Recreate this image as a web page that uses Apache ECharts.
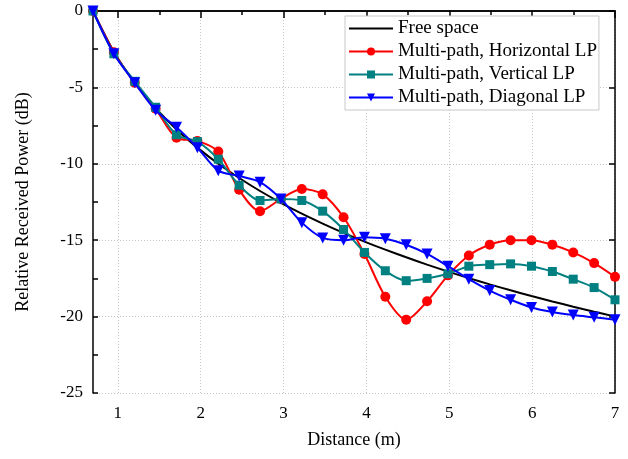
<!DOCTYPE html>
<html>
<head>
<meta charset="utf-8">
<script src="https://cdn.jsdelivr.net/npm/echarts@6/dist/echarts.min.js"></script>
<style>
  html, body { margin: 0; padding: 0; background: #fff; }
  #chart { width: 628px; height: 459px; }
</style>
</head>
<body>
<div id="chart"></div>
<script>
// distances (m), 26 samples from 0.7 to 7.0
var distance = [0.7, 0.952, 1.204, 1.456, 1.708, 1.96, 2.212, 2.464, 2.716, 2.968,
  3.22, 3.472, 3.724, 3.976, 4.228, 4.48, 4.732, 4.984, 5.236, 5.488,
  5.74, 5.992, 6.244, 6.496, 6.748, 7.0];

var freeSpace = [0, -2.67, -4.71, -6.36, -7.75, -8.94, -10.0, -10.93, -11.78, -12.55,
  -13.26, -13.91, -14.52, -15.09, -15.62, -16.12, -16.6, -17.05, -17.48, -17.89,
  -18.28, -18.65, -19.01, -19.35, -19.68, -20.0];

var horizontalLP = [0, -2.7, -4.7, -6.4, -8.3, -8.5, -9.2, -11.7, -13.1, -12.3,
  -11.65, -12.0, -13.5, -15.9, -18.7, -20.2, -19.0, -17.3, -16.0, -15.3,
  -15.0, -15.0, -15.3, -15.8, -16.5, -17.4];

var verticalLP = [0, -2.8, -4.6, -6.3, -8.1, -8.55, -9.7, -11.4, -12.4, -12.3,
  -12.4, -13.1, -14.3, -15.8, -17.0, -17.65, -17.5, -17.2, -16.7, -16.6,
  -16.55, -16.7, -17.05, -17.55, -18.1, -18.9];

var diagonalLP = [0, -2.8, -4.7, -6.5, -7.6, -8.95, -10.45, -10.8, -11.2, -12.3,
  -13.85, -14.85, -15.0, -14.8, -14.9, -15.3, -15.9, -16.7, -17.55, -18.3,
  -18.9, -19.4, -19.7, -19.9, -20.05, -20.2];

var xMajor = [1, 2, 3, 4, 5, 6, 7];
var xMinor = [1.5, 2.5, 3.5, 4.5, 5.5, 6.5];

var FONT = 'Liberation Serif';

function pairs(ys) {
  return ys.map(function(y, i) { return [distance[i], y]; });
}

var chart = echarts.init(document.getElementById('chart'));

var axisLine = { show: true, lineStyle: { color: '#000', width: 1.5 } };
var gridLine = { show: true, lineStyle: { color: '#c4c4c4', type: [1, 2], width: 1 } };

chart.setOption({
  animation: false,
  grid: { left: 93, right: 13, top: 11, bottom: 66 },
  legend: {
    left: 345,
    top: 16,
    orient: 'vertical',
    itemWidth: 44,
    itemHeight: 10,
    itemGap: 4,
    padding: [3, 2, 3, 3],
    backgroundColor: '#fff',
    borderColor: '#c8c8c8',
    borderWidth: 1,
    textStyle: { fontFamily: FONT, fontSize: 19, color: '#000' },
    data: ['Free space', 'Multi-path, Horizontal LP', 'Multi-path, Vertical LP', 'Multi-path, Diagonal LP']
  },
  xAxis: [
    {
      type: 'value', position: 'bottom', min: 0.7, max: 7,
      name: 'Distance (m)', nameLocation: 'middle', nameGap: 38,
      nameTextStyle: { fontFamily: FONT, fontSize: 18, color: '#000' },
      axisLine: axisLine,
      axisTick: { show: true, inside: false, length: 7, customValues: xMajor, lineStyle: { color: '#000', width: 1.5 } },
      axisLabel: { customValues: xMajor, fontFamily: FONT, fontSize: 17, color: '#000', margin: 12 },
      splitLine: gridLine
    },
    {
      type: 'value', position: 'bottom', min: 0.7, max: 7,
      axisLine: { show: false },
      axisTick: { show: true, inside: false, length: 4, customValues: xMinor, lineStyle: { color: '#000', width: 1.5 } },
      axisLabel: { show: false },
      splitLine: { show: false }
    },
    {
      type: 'value', position: 'top', min: 0.7, max: 7,
      axisLine: axisLine,
      axisTick: { show: true, inside: true, length: 6, customValues: xMajor, lineStyle: { color: '#000', width: 1.5 } },
      axisLabel: { show: false },
      splitLine: { show: false }
    }
  ],
  yAxis: [
    {
      type: 'value', position: 'left', min: -25, max: 0, interval: 5,
      name: 'Relative Received Power (dB)', nameLocation: 'middle', nameGap: 61,
      nameTextStyle: { fontFamily: FONT, fontSize: 18, color: '#000' },
      axisLine: axisLine,
      axisTick: { show: true, inside: true, length: 5, lineStyle: { color: '#000', width: 1.5 } },
      minorTick: { show: true, splitNumber: 2, length: 5, lineStyle: { color: '#000', width: 1.5 } },
      axisLabel: { fontFamily: FONT, fontSize: 17, color: '#000', margin: 10 },
      splitLine: gridLine
    },
    {
      type: 'value', position: 'right', min: -25, max: 0, interval: 5,
      axisLine: axisLine,
      axisTick: { show: true, inside: true, length: 6, lineStyle: { color: '#000', width: 1.5 } },
      axisLabel: { show: false },
      splitLine: { show: false }
    }
  ],
  series: [
    {
      name: 'Free space', type: 'line', smooth: 0.3,
      data: pairs(freeSpace), showSymbol: false,
      lineStyle: { color: '#000', width: 2 }, itemStyle: { color: '#000', opacity: 0 }, z: 2
    },
    {
      name: 'Multi-path, Horizontal LP', type: 'line', smooth: 0.3,
      data: pairs(horizontalLP), symbol: 'circle', symbolSize: 10,
      lineStyle: { color: '#f00', width: 2 }, itemStyle: { color: '#f00' }, z: 3
    },
    {
      name: 'Multi-path, Vertical LP', type: 'line', smooth: 0.3,
      data: pairs(verticalLP), symbol: 'rect', symbolSize: 9,
      lineStyle: { color: '#008080', width: 2 }, itemStyle: { color: '#008080' }, z: 4
    },
    {
      name: 'Multi-path, Diagonal LP', type: 'line', smooth: 0.3,
      data: pairs(diagonalLP), symbol: 'triangle', symbolRotate: 180, symbolSize: 11,
      lineStyle: { color: '#00f', width: 2 }, itemStyle: { color: '#00f' }, z: 5
    }
  ]
});
</script>
</body>
</html>
